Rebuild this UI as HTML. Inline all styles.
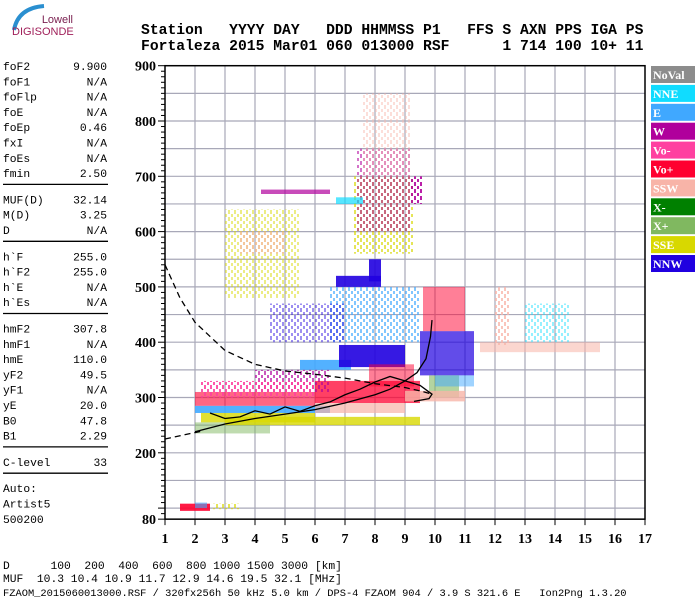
<!DOCTYPE html>
<html><head><meta charset="utf-8"><style>
html,body{margin:0;padding:0;background:#fff;}
svg{display:block;}
.mono{font-family:"Liberation Mono",monospace;}
</style></head><body>
<svg id="chart" width="700" height="600" viewBox="0 0 700 600" xmlns="http://www.w3.org/2000/svg">
<defs id="defs"></defs>
<g>
  <path d="M14 30 Q18 8 44 6" fill="none" stroke="#2a8fd0" stroke-width="4"/>
  <text x="73" y="23" font-family="Liberation Sans,sans-serif" font-size="11" fill="#7a2050" text-anchor="end">Lowell</text>
  <text x="12" y="35" font-family="Liberation Sans,sans-serif" font-size="11" fill="#a0205a">DIGISONDE</text>
</g>
<g font-family="Liberation Mono,monospace" font-weight="bold" font-size="14.7">
  <text x="141" y="34" xml:space="preserve">Station   YYYY DAY   DDD HHMMSS P1   FFS S AXN PPS IGA PS</text>
  <text x="141" y="50" xml:space="preserve">Fortaleza 2015 Mar01 060 013000 RSF      1 714 100 10+ 11</text>
</g>
<g id="params" class="mono" font-size="11.3"></g>
<g id="grid"></g>
<g id="marks"></g>
<g id="curves"></g>
<g id="axes"></g>
<g id="legend"></g>
<g class="mono" font-size="11.3">
  <text x="3" y="569" xml:space="preserve">D      100  200  400  600  800 1000 1500 3000 [km]</text>
  <text x="3" y="582" xml:space="preserve">MUF  10.3 10.4 10.9 11.7 12.9 14.6 19.5 32.1 [MHz]</text>
  <text x="3" y="596" xml:space="preserve" font-size="10.4">FZAOM_2015060013000.RSF / 320fx256h 50 kHz 5.0 km / DPS-4 FZAOM 904 / 3.9 S 321.6 E   Ion2Png 1.3.20</text>
</g>
</svg>
<script>
// ---- data ----
const paramNames = ["foF2","foF1","foFlp","foE","foEp","fxI","foEs","fmin","|","MUF(D)","M(D)","D","|","h`F","h`F2","h`E","h`Es","|","hmF2","hmF1","hmE","yF2","yF1","yE","B0","B1","|","C-level","|","Auto:","Artist5","500200"];
const paramValues = ["9.900","N/A","N/A","N/A","0.46","N/A","N/A","2.50","","32.14","3.25","N/A","","255.0","255.0","N/A","N/A","","307.8","N/A","110.0","49.5","N/A","20.0","47.8","2.29","","33","","","",""];
const xTicks = [1,2,3,4,5,6,7,8,9,10,11,12,13,14,15,16,17];
const yTicks = [80,200,300,400,500,600,700,800,900];
const yGrid = [100,150,200,250,300,350,400,450,500,550,600,650,700,750,800,850];
const legendNames = ["NoVal","NNE","E","W","Vo-","Vo+","SSW","X-","X+","SSE","NNW"];
const legendColors = ["#8c8c8c","#10dcff","#40a8ff","#b0009c","#ff40a0","#ff0030","#f8b4a8","#008000","#80b860","#d8d800","#2000e0"];
// echo regions: freq range (MHz), height range (km), polarization index, density
const echoF0 = [1.5,2.0,2.6,2.0,2.2,2.0,2.0,6.0,6.0,5.5,6.8,9.5,9.6,9.8,9.0,11.5,6.7,7.8,7.3,7.4,7.6,3.0,3.5,4.2,6.7,6.5,4.0,12.0,13.0,7.8,9.2,3.0,10.0,2.2,4.5];
const echoF1 = [2.5,2.4,3.5,6.5,6.0,6.0,4.5,9.5,9.0,7.2,9.0,11.3,11.0,10.8,11.0,15.5,8.2,8.2,9.3,9.2,9.2,5.5,5.0,6.5,7.6,9.5,6.5,12.5,14.5,9.3,9.6,9.5,11.3,6.0,7.0];
const echoH0 = [95,100,98,272,255,285,235,290,272,350,355,340,420,300,293,382,500,510,560,600,700,480,560,668,650,400,310,395,400,320,650,250,320,300,400];
const echoH1 = [108,110,108,285,272,310,255,330,290,368,395,420,500,340,312,400,520,550,700,750,850,640,600,676,662,500,350,500,470,360,700,265,340,330,470];
const echoType = [5,2,9,2,9,5,8,5,6,2,10,10,5,8,6,6,10,10,9,3,6,9,6,3,1,2,3,6,1,5,3,9,2,4,10];
const echoDensity = [0.9,0.6,0.3,0.9,0.8,0.6,0.5,0.75,0.7,0.9,0.9,0.7,0.5,0.6,0.8,0.55,0.9,0.9,0.3,0.25,0.2,0.22,0.3,0.7,0.7,0.3,0.3,0.35,0.2,0.5,0.4,0.8,0.5,0.4,0.2];
// fitted profile traces
const traceSolidF = [2.0,3,4,5,6,7,8,8.5,9,9.4,9.7,9.85,9.9];
const traceSolidH = [238,252,262,270,278,290,305,315,330,345,370,410,440];
const traceWiggleF = [2.5,3.0,3.5,4,4.5,5,5.5,6,6.5,7,7.5,8,8.5,9,9.5,9.9,9.8,9.3];
const traceWiggleH = [272,262,265,276,270,283,275,285,292,305,315,328,338,330,322,306,298,293];
const dashedF = [1.0,1.5,2.0,3.0,4.0,5.0,6.0,7.0,8.0,9.0,9.5,9.9];
const dashedH = [540,480,436,385,360,348,342,335,325,318,312,306];
const dashedLowF = [1.0,1.6,2.3];
const dashedLowH = [225,232,240];

// ---- axes ----
const X0=165, XW=30, Y0=65.7, YK=0.553;
const xs = f => X0 + (f-1)*XW;
const ys = h => Y0 + (900-h)*YK;
const NS="http://www.w3.org/2000/svg";
function mk(tag, attrs, parent){const e=document.createElementNS(NS,tag);for(const k in attrs)e.setAttribute(k,attrs[k]);parent.appendChild(e);return e;}

// scatter-like patterns per colour
const D=document.getElementById('defs');
legendColors.forEach((c,i)=>{
  const p=mk('pattern',{id:'pat'+i,width:6,height:7,patternUnits:'userSpaceOnUse'},D);
  mk('rect',{x:0,y:0,width:2,height:4,fill:c},p);
  mk('rect',{x:3,y:4,width:2,height:3,fill:c},p);
});

// params
const P=document.getElementById('params');
let py=66;
paramNames.forEach((n,i)=>{
  if(n==="|"){
    const l=mk('line',{x1:3,x2:108,y1:py-4,y2:py-4,stroke:'#000','stroke-width':1.3},P);
    
    
    py+=11;return;
  }
  const t=mk('text',{x:3,y:py+4},P);t.textContent=n;
  
  
  if(paramValues[i]){
    const v=mk('text',{x:107,y:py+4,'text-anchor':'end'},P);v.textContent=paramValues[i];
    
    
  }
  py+=15.3;
});

// grid
const G=document.getElementById('grid');
xTicks.forEach(f=>{ if(f>1&&f<17){const l=mk('line',{x1:xs(f),x2:xs(f),y1:ys(900),y2:ys(80),stroke:'#a8a8b8','stroke-width':1.2},G);
  
  }});
yGrid.forEach(h=>{const l=mk('line',{x1:xs(1),x2:xs(17),y1:ys(h),y2:ys(h),stroke:'#a8a8b8','stroke-width':1.2},G);
  
  });

// echoes
const M=document.getElementById('marks');
echoF0.forEach((f,i)=>{
  const sparse=echoDensity[i]<0.5;
  const r=mk('rect',{x:xs(f),y:ys(echoH1[i]),width:xs(echoF1[i])-xs(f),height:ys(echoH0[i])-ys(echoH1[i]),
    fill: sparse?('url(#pat'+echoType[i]+')'):legendColors[echoType[i]],
    'fill-opacity': sparse?Math.min(1,echoDensity[i]*2.2):echoDensity[i]},M);
  
  
});

// curves
const C=document.getElementById('curves');
function poly(fa,ha,dash,name){
  const pts=fa.map((f,i)=>xs(f)+','+ys(ha[i])).join(' ');
  const p=mk('polyline',{points:pts,fill:'none',stroke:'#000','stroke-width':1.3},C);
  if(dash)p.setAttribute('stroke-dasharray','6,4');
  
  
}
poly(traceSolidF,traceSolidH,false,'virtual-height-trace');
poly(traceWiggleF,traceWiggleH,false,'autoscaled-trace');
poly(dashedF,dashedH,true,'profile-dashed-upper');
poly(dashedLowF,dashedLowH,true,'profile-dashed-lower');

// axes
const A=document.getElementById('axes');
const frame=mk('rect',{x:xs(1),y:ys(900),width:xs(17)-xs(1),height:ys(80)-ys(900),fill:'none',stroke:'#000','stroke-width':1.5},A);


for(let h=80;h<=900;h+=10){
  const major=(h%100===0)||h===80;
  const t=mk('line',{x1:xs(1)-(major?7:4),x2:xs(1),y1:ys(h),y2:ys(h),stroke:'#000','stroke-width':1},A);
  
  
}
yTicks.forEach(h=>{const t=mk('text',{x:xs(1)-9,y:ys(h)+5,'text-anchor':'end','font-family':'Liberation Serif,serif','font-weight':'bold','font-size':14},A);
  t.textContent=h;
  
  });
xTicks.forEach(f=>{
  const l=mk('line',{x1:xs(f),x2:xs(f),y1:ys(80),y2:ys(80)+6,stroke:'#000','stroke-width':1},A);
  
  
  const t=mk('text',{x:xs(f),y:ys(80)+24,'text-anchor':'middle','font-family':'Liberation Serif,serif','font-weight':'bold','font-size':14},A);
  t.textContent=f;
  
  
});

// legend
const L=document.getElementById('legend');
legendNames.forEach((n,i)=>{
  const y=69+i*18.9;
  const r=mk('rect',{x:651,y:y-3,width:44,height:17,fill:legendColors[i]},L);
  
  
  const t=mk('text',{x:653,y:y+10,fill:'#fff','font-family':'Liberation Serif,serif','font-weight':'bold','font-size':12},L);
  t.textContent=n;
  
  
});
</script>
</body></html>
